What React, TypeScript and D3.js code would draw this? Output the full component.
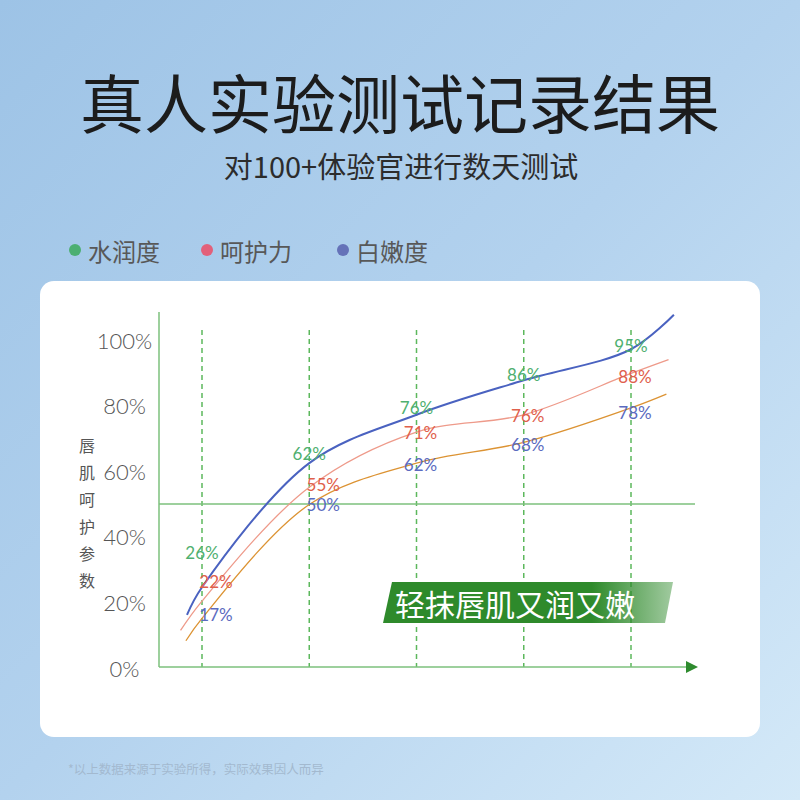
import React from "react";
import * as d3 from "d3";

// ---- data ----
const stages = [0, 1, 2, 3, 4];
const seriesNames = ["水润度", "呵护力", "白嫩度"];
const moisture = [26, 62, 76, 86, 95];
const care = [22, 55, 71, 76, 88];
const whitening = [17, 50, 62, 68, 78];
// lead-in / lead-out of each drawn curve: [stage, value]
const moistureEnds = [[-0.14, 18], [4.4, 105]];
const careEnds = [[-0.2, 13.5], [4.35, 92]];
const whiteningEnds = [[-0.15, 10.5], [4.33, 82]];
const yTicks = [0, 20, 40, 60, 80, 100];
const referenceValue = 50;

const title = "真人实验测试记录结果";
const subtitle = "对100+体验官进行数天测试";
const yTitle = "唇肌呵护参数";
const banner = "轻抹唇肌又润又嫩";
const footnote = "*以上数据来源于实验所得，实际效果因人而异";

const legendColors = ["#4caf72", "#e2607a", "#6572b8"];
const lineColors = ["#4a62c0", "#ee9a8a", "#dc9333"];
const labelColors = ["#4fb070", "#e0604c", "#5b6bc0"];

export default function App() {
  const W = 800, H = 800;
  const x = d3.scaleLinear().domain([0, 4]).range([202, 631]);
  const yAxis = d3.scaleLinear().domain([0, 100]).range([668, 340]);
  const yCurve = d3.scaleLinear().domain([0, 100]).range([677, 332]);

  const series = [
    { vals: moisture, ends: moistureEnds, width: 2, firstDy: -30, dy: -11, dx: [0, 0] },
    { vals: care, ends: careEnds, width: 1.3, firstDy: -14, dy: -3, dx: [14, 4] },
    { vals: whitening, ends: whiteningEnds, width: 1.3, firstDy: 2, dy: 0, dx: [14, 4] },
  ];

  const line = d3
    .line<[number, number]>()
    .x((d) => x(d[0]))
    .y((d) => yCurve(d[1]))
    .curve(d3.curveCatmullRom.alpha(0.5));

  const cjk = "'Noto Sans CJK SC', sans-serif";
  const num = "Lato, 'Noto Sans', sans-serif";

  return (
    <svg width={W} height={H} style={{ display: "block", position: "absolute", left: 0, top: 0 }}>
      <defs>
        <linearGradient id="bg" x1="0" y1="0" x2="1" y2="1">
          <stop offset="0" stopColor="#9dc3e6" />
          <stop offset="0.5" stopColor="#b3d2ee" />
          <stop offset="1" stopColor="#d4e9f8" />
        </linearGradient>
        <linearGradient id="bannerGrad" x1="383" y1="0" x2="673" y2="0" gradientUnits="userSpaceOnUse">
          <stop offset="0" stopColor="#2e8a2b" />
          <stop offset="0.72" stopColor="#2e8a2b" />
          <stop offset="1" stopColor="#2e8a2b" stopOpacity="0.45" />
        </linearGradient>
      </defs>
      <rect x={0} y={0} width={W} height={H} fill="url(#bg)" />

      <text x={400} y={100} textAnchor="middle" dominantBaseline="central" fontFamily={cjk} fontSize={64} fontWeight={400} fill="#1c1c1c">
        {title}
      </text>
      <text x={401} y={165} textAnchor="middle" dominantBaseline="central" fontFamily={cjk} fontSize={29} fill="#2c2c2c">
        {subtitle}
      </text>

      {seriesNames.map((n, i) => {
        const cx = [75, 207, 343][i];
        return (
          <g key={n}>
            <circle cx={cx} cy={250} r={6} fill={legendColors[i]} />
            <text x={cx + 13} y={250} dominantBaseline="central" fontFamily={cjk} fontSize={24} fill="#585858">
              {n}
            </text>
          </g>
        );
      })}

      <rect x={40} y={281} width={720} height={456} rx={14} fill="#ffffff" />

      {/* dashed stage lines */}
      {stages.map((s) => (
        <line key={s} x1={x(s)} x2={x(s)} y1={330} y2={667} stroke="#5cb85c" strokeWidth={1.5} strokeDasharray="5,4" />
      ))}

      {/* axes */}
      <line x1={159} x2={159} y1={312} y2={667} stroke="#7cc07c" strokeWidth={1.5} />
      <line x1={159} x2={688} y1={667} y2={667} stroke="#7cc07c" strokeWidth={1.5} />
      <polygon points="686,661 698,667 686,673" fill="#2e8b2e" />
      <line x1={159} x2={695} y1={yAxis(referenceValue)} y2={yAxis(referenceValue)} stroke="#7cc07c" strokeWidth={1.5} />

      {yTicks.map((t) => (
        <text key={t} x={124.5} y={yAxis(t)} textAnchor="middle" dominantBaseline="central" fontFamily={num} fontSize={22} fontWeight={300} fill="#555">
          {t}%
        </text>
      ))}
      {yTitle.split("").map((c, i) => (
        <text key={i} x={87} y={445 + i * 27} textAnchor="middle" dominantBaseline="central" fontFamily={cjk} fontSize={16} fill="#555">
          {c}
        </text>
      ))}

      {/* curves */}
      {series.map((s, si) => {
        const pts: [number, number][] = [
          [s.ends[0][0], s.ends[0][1]],
          ...s.vals.map((v, i) => [stages[i], v] as [number, number]),
          [s.ends[1][0], s.ends[1][1]],
        ];
        return <path key={si} d={line(pts) || ""} fill="none" stroke={lineColors[si]} strokeWidth={s.width} />;
      })}

      {/* value labels */}
      {series.map((s, si) =>
        s.vals.map((v, i) => (
          <text
            key={si + "-" + i}
            x={x(stages[i]) + (i < 2 ? s.dx[0] : s.dx[1])}
            y={yAxis(v) + (i === 0 ? s.firstDy : s.dy)}
            textAnchor="middle"
            dominantBaseline="central"
            fontFamily={num}
            fontSize={17}
            fill={labelColors[si]}
          >
            {v}%
          </text>
        ))
      )}

      {/* banner */}
      <polygon points="392,582 673,582 665,623 383,623" fill="url(#bannerGrad)" />
      <text x={395} y={603} dominantBaseline="central" fontFamily={cjk} fontSize={30} fill="#ffffff">
        {banner}
      </text>

      <text x={68} y={768} dominantBaseline="central" fontFamily={cjk} fontSize={12.5} fill="#a3b9cf">
        {footnote}
      </text>
    </svg>
  );
}
